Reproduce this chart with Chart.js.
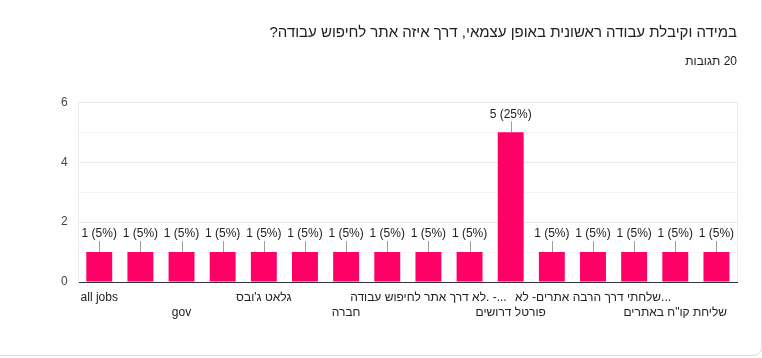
<!DOCTYPE html>
<html>
<head>
<meta charset="utf-8">
<script src="https://cdn.jsdelivr.net/npm/chart.js@4/dist/chart.umd.min.js"></script>
<style>
  html, body { margin: 0; padding: 0; background: #fff; }
  #card { position: absolute; left: -12px; top: -12px; width: 772px; height: 366px; border: 1px solid #dadce0; border-radius: 8px; }
  #wrap { position: absolute; left: 0; top: 0; width: 762px; height: 358px; }
</style>
</head>
<body>
<div id="card"></div>
<div id="wrap"><canvas id="barchart" dir="rtl"></canvas></div>
<script>
// answers of the form question (google forms summary)
var questionTitle = 'במידה וקיבלת עבודה ראשונית באופן עצמאי, דרך איזה אתר לחיפוש עבודה?';
var responsesText = '20 תגובות';
var totalResponses = 20;

// only every 2nd label is visible in the picture, the others are guesses
var categories = [
    'all jobs', 'drushim', 'gov', 'jobmaster',
    "גלאט ג'ובס", 'דרושים IL', 'חברה', 'חברים',
    '...- .לא דרך אתר לחיפוש עבודה', 'לינקדאין', 'פורטל דרושים', 'קשרים אישיים',
    '...שלחתי דרך הרבה אתרים- לא', 'שלחתי ישירות', 'שליחת קו"ח באתרים', 'תוכנית השמה'
];
var answers = [1, 1, 1, 1, 1, 1, 1, 1, 1, 1, 5, 1, 1, 1, 1, 1];
var yTicks = [0, 2, 4, 6];

var FONT = 'Arial, "Liberation Sans", sans-serif';
var barColor = '#ff0066';

var barLabels = {
    id: 'barLabels',
    beforeDatasetsDraw: function (chart) {
        // light frame on the right side of the plot
        var a = chart.chartArea;
        var ctx = chart.ctx;
        ctx.save();
        ctx.strokeStyle = '#ebebeb';
        ctx.lineWidth = 1;
        ctx.beginPath();
        ctx.moveTo(Math.round(a.right) + 0.5, a.top);
        ctx.lineTo(Math.round(a.right) + 0.5, a.bottom);
        ctx.stroke();
        ctx.restore();
    },
    afterDatasetsDraw: function (chart) {
        var ctx = chart.ctx;
        var meta = chart.getDatasetMeta(0);
        ctx.save();
        ctx.direction = 'ltr';
        ctx.font = '12px ' + FONT;
        ctx.textAlign = 'center';
        ctx.textBaseline = 'middle';
        meta.data.forEach(function (bar, i) {
            var v = answers[i];
            var pct = Math.round(v / totalResponses * 100);
            var x = Math.round(bar.x) + 0.5;
            ctx.strokeStyle = '#9e9e9e';
            ctx.lineWidth = 1;
            ctx.beginPath();
            ctx.moveTo(x, bar.y);
            ctx.lineTo(x, bar.y - 11);
            ctx.stroke();
            ctx.fillStyle = '#222222';
            ctx.fillText(v + ' (' + pct + '%)', bar.x, bar.y - 18);
        });
        ctx.restore();
    }
};

var ctx = document.getElementById('barchart').getContext('2d');
var myChart = new Chart(ctx, {
    type: 'bar',
    data: {
        labels: categories,
        datasets: [{
            data: answers,
            backgroundColor: barColor,
            borderWidth: 0,
            barPercentage: 0.63,
            categoryPercentage: 1
        }]
    },
    plugins: [barLabels],
    options: {
        responsive: true,
        maintainAspectRatio: false,
        animation: false,
        layout: { padding: { left: 50, right: 25, top: 0, bottom: 30 } },
        plugins: {
            legend: { display: false },
            tooltip: { enabled: false },
            title: {
                display: true,
                text: questionTitle,
                align: 'end',
                color: '#202124',
                font: { family: FONT, size: 15, weight: 'normal', lineHeight: 1.2 },
                padding: { top: 24, bottom: 12 }
            },
            subtitle: {
                display: true,
                text: responsesText,
                align: 'end',
                color: '#202124',
                font: { family: FONT, size: 12, weight: 'normal', lineHeight: 1.2 },
                padding: { top: 0, bottom: 34 }
            }
        },
        scales: {
            x: {
                grid: { display: false, drawTicks: false },
                border: { display: true, color: '#333333', width: 1 },
                ticks: {
                    autoSkip: false,
                    maxRotation: 0,
                    minRotation: 0,
                    padding: 8,
                    color: '#222222',
                    font: { family: FONT, size: 12, lineHeight: 1.25 },
                    callback: function (value, index) {
                        if (index % 4 === 0) return categories[index];
                        if (index % 4 === 2) return ['', categories[index]];
                        return '';
                    }
                }
            },
            y: {
                min: yTicks[0],
                max: yTicks[yTicks.length - 1],
                border: { display: true, color: '#ebebeb' },
                grid: {
                    drawTicks: false,
                    color: function (c) {
                        return yTicks.indexOf(c.tick.value) >= 0 ? '#e8e8e8' : '#f3f3f3';
                    }
                },
                ticks: {
                    stepSize: 1,
                    padding: 11,
                    color: '#444444',
                    font: { family: FONT, size: 12 },
                    callback: function (value) {
                        return yTicks.indexOf(value) >= 0 ? value : '';
                    }
                }
            }
        }
    }
});
</script>
</body>
</html>
